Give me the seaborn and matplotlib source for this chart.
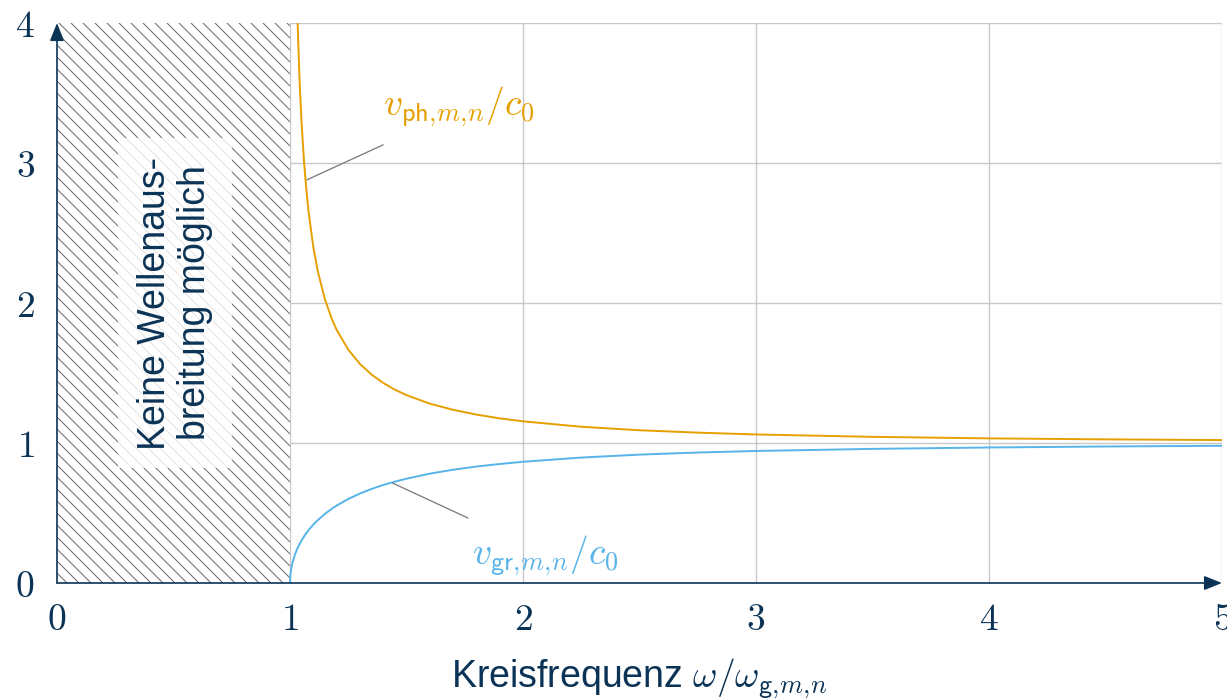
"""
Phase and group velocity in a waveguide above cutoff.
"""

import matplotlib
matplotlib.use("Agg")
import matplotlib.pyplot as plt
import pandas as pd
import seaborn as sns

# values
omega_gr = [1.0, 1.002, 1.005, 1.01, 1.02, 1.03, 1.04, 1.05, 1.06, 1.07, 1.08, 1.1,
            1.12, 1.15, 1.18, 1.2, 1.25, 1.3, 1.35, 1.4, 1.45, 1.5, 1.6, 1.7, 1.8,
            1.9, 2.0, 2.25, 2.5, 2.75, 3.0, 3.5, 4.0, 4.5, 5.0]
v_gr = [0.0, 0.063, 0.100, 0.140, 0.197, 0.240, 0.275, 0.305, 0.332, 0.356, 0.378, 0.417,
        0.450, 0.494, 0.531, 0.553, 0.600, 0.639, 0.672, 0.700, 0.724, 0.745, 0.781, 0.809,
        0.832, 0.850, 0.866, 0.896, 0.917, 0.932, 0.943, 0.958, 0.968, 0.975, 0.980]

omega_ph = [1.03, 1.035, 1.04, 1.045, 1.05, 1.06, 1.07, 1.08, 1.1, 1.12, 1.15, 1.18,
            1.2, 1.25, 1.3, 1.35, 1.4, 1.45, 1.5, 1.6, 1.7, 1.8, 1.9, 2.0, 2.25, 2.5,
            2.75, 3.0, 3.5, 4.0, 4.5, 5.0]
v_ph = [4.174, 3.878, 3.640, 3.445, 3.280, 3.015, 2.811, 2.648, 2.400, 2.221, 2.025, 1.884,
        1.809, 1.667, 1.565, 1.489, 1.429, 1.381, 1.342, 1.281, 1.237, 1.203, 1.176, 1.155,
        1.116, 1.091, 1.074, 1.061, 1.044, 1.033, 1.026, 1.021]

x_ticks = [0, 1, 2, 3, 4, 5]
y_ticks = [0, 1, 2, 3, 4]

NAVY = '#0b3356'
ORANGE = '#E69F00'
BLUE = '#56B4E9'
GRID = '#c8c8c8'

# render at 108 dpi so the hatch spacing matches; scale point sizes to keep pixels
DPI = 108
K = 100 / DPI
FS = 27 * K

sns.set_style("white")
plt.rcParams['font.family'] = ['Liberation Sans', 'DejaVu Sans']
plt.rcParams['mathtext.fontset'] = 'cm'
plt.rcParams['hatch.color'] = '#707070'
plt.rcParams['hatch.linewidth'] = 0.75 * K

df_gr = pd.DataFrame({'omega': omega_gr, 'v': v_gr})
df_ph = pd.DataFrame({'omega': omega_ph, 'v': v_ph})

fig = plt.figure(figsize=(1227 / DPI, 699 / DPI), dpi=DPI)
ax = fig.add_axes([57 / 1227, 116 / 699, 1165 / 1227, 560 / 699])

# grid
for xv in x_ticks[1:]:
    ax.axvline(xv, color=GRID, lw=1.0 * K, zorder=0)
for yv in y_ticks[1:]:
    ax.axhline(yv, color=GRID, lw=1.0 * K, zorder=0)

# forbidden region
ax.axvspan(0, 1, facecolor='white', edgecolor='#707070',
           hatch='\\\\\\', lw=0, zorder=1)

sns.lineplot(data=df_ph, x='omega', y='v', ax=ax, color=ORANGE, lw=1.4 * K, zorder=3)
sns.lineplot(data=df_gr, x='omega', y='v', ax=ax, color=BLUE, lw=1.4 * K, zorder=3)

ax.set_xlim(0, 5)
ax.set_ylim(0, 4)
for s in ax.spines.values():
    s.set_visible(False)

ax.set_xticks(x_ticks)
ax.set_yticks(y_ticks)
ax.set_xticklabels([f'${t}$' for t in x_ticks])
ax.set_yticklabels([f'${t}$' for t in y_ticks])
ax.tick_params(axis='both', length=4 * K, width=1.0 * K, color=GRID, direction='out',
               labelsize=FS, labelcolor=NAVY)
ax.tick_params(axis='x', pad=10 * K)
ax.tick_params(axis='y', pad=12 * K)

ax.set_xlabel(r'Kreisfrequenz $\omega/\omega_{\mathsf{g},\!m,\!n}$', fontsize=FS,
              color=NAVY, labelpad=13 * K)
ax.set_ylabel('')

# axis arrows
arrow = dict(arrowstyle='-|>,head_length=1.0,head_width=0.4', color=NAVY,
             lw=1.2 * K, shrinkA=0, shrinkB=0)
ax.annotate('', xy=(0, 1), xytext=(0, 0), xycoords='axes fraction',
            arrowprops=arrow, annotation_clip=False, zorder=5)
ax.annotate('', xy=(1, 0), xytext=(0, 0), xycoords='axes fraction',
            arrowprops=arrow, annotation_clip=False, zorder=5)

# text in forbidden region
ax.text(0.505, 2.0, 'Keine Wellenaus-\nbreitung möglich', rotation=90,
        ha='center', va='center', fontsize=FS, color=NAVY, zorder=4,
        linespacing=1.15,
        bbox=dict(boxstyle='square,pad=0.5', facecolor='white', alpha=0.82,
                  edgecolor='none'))

# curve labels
ax.plot([1.40, 1.073], [3.13, 2.88], color='#777777', lw=0.9 * K, zorder=4)
ax.text(1.40, 3.34, r'$v_{\mathsf{ph},\!m,\!n}/c_0$', fontsize=FS, color=ORANGE,
        ha='left', va='baseline')
ax.plot([1.44, 1.764], [0.714, 0.464], color='#777777', lw=0.9 * K, zorder=4)
ax.text(1.78, 0.13, r'$v_{\mathsf{gr},\!m,\!n}/c_0$', fontsize=FS, color=BLUE,
        ha='left', va='baseline')

fig.savefig('out.png', dpi=DPI, facecolor='white')
